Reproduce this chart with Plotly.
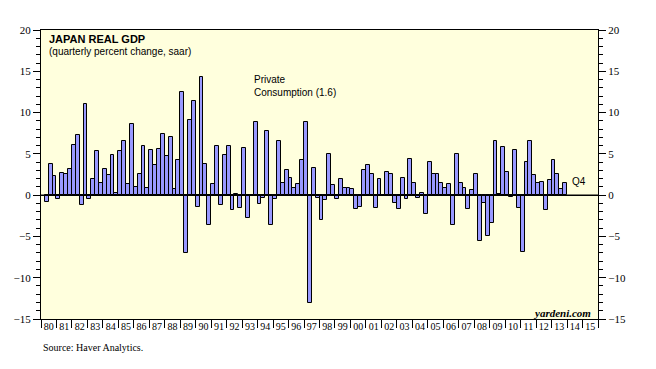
import plotly.graph_objects as go

# ---------------- data ----------------
start_year = 1980
start_quarter = 2  # first bar is 1980 Q2
values = [
    -0.8, 3.8, 2.3,                      # 1980 Q2-Q4
    -0.5, 2.7, 2.6, 3.2,                 # 1981
    6.1, 7.3, -1.2, 11.0,                # 1982
    -0.5, 2.0, 5.3, 1.5,                 # 1983
    3.2, 2.5, 4.9, 0.3,                  # 1984
    5.4, 6.5, 1.3, 8.6,                  # 1985
    1.0, 2.6, 5.9, 0.9,                  # 1986
    5.5, 3.6, 5.6, 7.4,                  # 1987
    4.7, 7.1, 0.8, 4.2,                  # 1988
    12.5, -7.0, 9.1, 11.4,               # 1989
    -1.4, 14.3, 3.8, -3.6,               # 1990
    1.4, 6.0, -1.2, 4.9,                 # 1991
    6.0, -1.8, 0.1, -1.6,                # 1992
    5.7, -2.8, -0.1, 8.9,                # 1993
    -1.1, -0.3, 7.8, -3.6,               # 1994
    -0.5, 6.6, 1.5, 3.0,                 # 1995
    2.1, 0.9, 1.3, 4.3,                  # 1996
    8.9, -13.1, 3.3, -0.4,               # 1997
    -3.0, -0.6, 5.0, 1.2,                # 1998
    -0.5, 1.9, 0.9, 0.9,                 # 1999
    0.8, -1.7, -1.4, 3.1,                # 2000
    3.6, 2.6, -1.6, 2.0,                 # 2001
    0.0, 2.8, 2.6, -1.0,                 # 2002
    -1.7, 2.1, -0.5, 4.4,                # 2003
    1.5, -0.3, 0.3, -2.3,                # 2004
    4.0, 2.6, 2.6, 1.5,                  # 2005
    0.9, 1.3, -3.6, 5.0,                 # 2006
    1.5, 0.9, -1.7, 0.6,                 # 2007
    2.6, -5.6, -0.9, -4.9,               # 2008
    -3.4, 6.6, 0.1, 5.8,                 # 2009
    2.8, -0.2, 5.5, -1.5,                # 2010
    -6.9, 4.0, 6.6, 2.4,                 # 2011
    1.5, 1.6, -1.8, 1.8,                 # 2012
    4.2, 2.6, 0.8, 1.5,                  # 2013
]
year_labels = ["80", "81", "82", "83", "84", "85", "86", "87", "88", "89",
               "90", "91", "92", "93", "94", "95", "96", "97", "98", "99",
               "00", "01", "02", "03", "04", "05", "06", "07", "08", "09",
               "10", "11", "12", "13", "14", "15"]
y_ticks = [-15, -10, -5, 0, 5, 10, 15, 20]
last_label = "Q4"
latest_pc = 1.6

# ---------------- positions ----------------
x_pos = [start_year + ((start_quarter - 1) + i) * 0.25 + 0.125 for i in range(len(values))]
years = [start_year + i for i in range(len(year_labels) + 1)]
label_pos = [start_year + i + 0.5 for i in range(len(year_labels))]
x_range = [start_year, start_year + len(year_labels)]

SERIF = "Liberation Serif, Times New Roman, serif"
SANS = "Liberation Sans, Arial, sans-serif"

fig = go.Figure()
fig.add_trace(go.Bar(
    x=x_pos, y=values, width=0.25,
    marker=dict(color="#9999FF", line=dict(color="black", width=1)),
    showlegend=False, hoverinfo="x+y",
))
# invisible trace for second (label) x axis and right y axis
fig.add_trace(go.Scatter(x=[x_range[0]], y=[0], xaxis="x2", yaxis="y2",
                         mode="markers", marker=dict(opacity=0), showlegend=False,
                         hoverinfo="skip"))
# zero line
fig.add_trace(go.Scatter(x=x_range, y=[0, 0], mode="lines",
                         line=dict(color="black", width=1.5), showlegend=False,
                         hoverinfo="skip"))

yaxis_common = dict(
    range=[-15, 20], tickvals=y_ticks, ticks="outside", ticklen=7, tickwidth=1,
    tickcolor="black", showgrid=False, zeroline=False,
    showline=True, linecolor="black", linewidth=1,
    tickfont=dict(family=SERIF, size=11, color="black"),
    minor=dict(dtick=1, ticks="outside", ticklen=4, tickcolor="black", showgrid=False),
    fixedrange=True,
)

fig.update_layout(
    width=656, height=369,
    margin=dict(l=41, r=58, t=30, b=50),
    paper_bgcolor="white", plot_bgcolor="#FFFFDD",
    bargap=0,
    xaxis=dict(range=x_range, tickvals=years, ticks="outside", ticklen=8,
               tickcolor="black", showticklabels=False, showgrid=False,
               zeroline=False, showline=True, linecolor="black", linewidth=1,
               mirror=True),
    xaxis2=dict(range=x_range, overlaying="x", side="bottom", anchor="y",
                tickvals=label_pos, ticktext=year_labels, ticks="",
                ticklen=0, showgrid=False,
                zeroline=False, showline=False,
                tickfont=dict(family=SERIF, size=10, color="black")),
    yaxis=dict(side="left", **yaxis_common),
    yaxis2=dict(side="right", overlaying="y", anchor="x", **yaxis_common),
    annotations=[
        dict(text="<b>JAPAN REAL GDP</b>", x=1980.39, y=18.9, xref="x", yref="y",
             xanchor="left", yanchor="middle", showarrow=False,
             font=dict(family=SANS, size=11, color="black")),
        dict(text="(quarterly percent change, saar)", x=1980.39, y=17.35, xref="x", yref="y",
             xanchor="left", yanchor="middle", showarrow=False,
             font=dict(family=SANS, size=10, color="black")),
        dict(text=f"Private<br>Consumption ({latest_pc})", x=1993.64, y=13.25,
             xref="x", yref="y", xanchor="left", yanchor="middle", align="left",
             showarrow=False, font=dict(family=SANS, size=10, color="black")),
        dict(text=last_label, x=2014.22, y=1.6, xref="x", yref="y",
             xanchor="left", yanchor="middle", showarrow=False,
             font=dict(family=SANS, size=10, color="black")),
        dict(text="<b><i>yardeni.com</i></b>", x=2015.7, y=-14.25, xref="x", yref="y",
             xanchor="right", yanchor="middle", showarrow=False,
             font=dict(family=SERIF, size=11, color="black")),
        dict(text="Source: Haver Analytics.", x=0.0, y=-0.1, xref="paper", yref="paper",
             xanchor="left", yanchor="middle", showarrow=False,
             font=dict(family=SERIF, size=10, color="black")),
    ],
)

fig.write_html("out.html", config={"displayModeBar": False},
               post_script="document.body.style.margin='0';")
